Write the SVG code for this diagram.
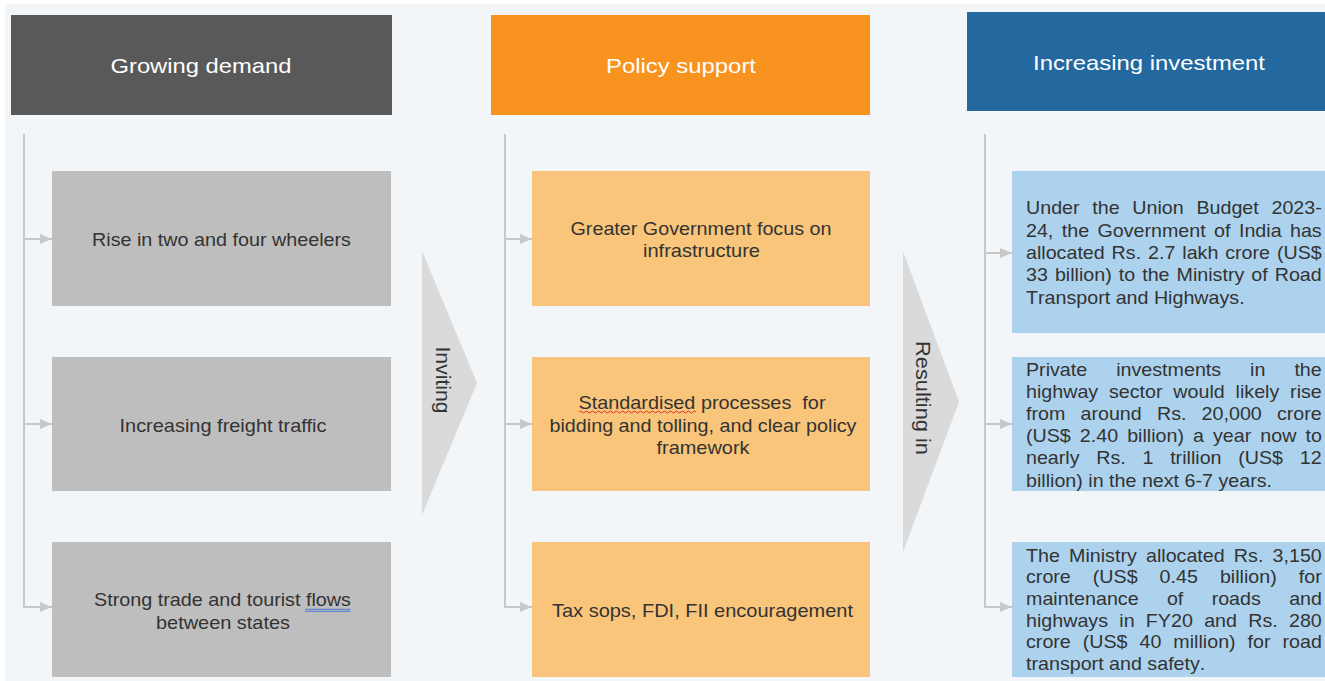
<svg xmlns="http://www.w3.org/2000/svg" width="1325" height="681" viewBox="0 0 1325 681">
<style>
.hdr{font-family:"Liberation Sans",Arial,sans-serif;font-size:21px;fill:#ffffff;text-anchor:middle}
.bx{font-family:"Liberation Sans",Arial,sans-serif;font-size:18.5px;fill:#333333;text-anchor:middle}
.rt{font-family:"Liberation Sans",Arial,sans-serif;font-size:17.5px;fill:#333333;font-kerning:none}
.chv{font-family:"Liberation Sans",Arial,sans-serif;font-size:20px;fill:#333333;text-anchor:middle}
.conn{fill:none;stroke:#C8C8C8;stroke-width:2}
.gray{fill:#BEBEBE}
.org{fill:#F9C57A}
.blu{fill:#ACD2ED}
.arrowbody{fill:#DADADA}
</style>
<defs>
<marker id="ah" markerUnits="userSpaceOnUse" markerWidth="12" markerHeight="10" refX="12" refY="5" orient="auto">
<path d="M0,0 L12,5 L0,10 Z" fill="#C8C8C8"/>
</marker>
</defs>
<rect x="0" y="0" width="1325" height="681" fill="#ffffff"/>
<rect x="5" y="4" width="1320" height="677" fill="#F3F6F8"/>

<g id="connectors">
<path class="conn" d="M24,134 V607 H52" marker-end="url(#ah)"/>
<path class="conn" d="M24,239 H52" marker-end="url(#ah)"/>
<path class="conn" d="M24,424 H52" marker-end="url(#ah)"/>
<path class="conn" d="M505,134 V607 H532" marker-end="url(#ah)"/>
<path class="conn" d="M505,239 H532" marker-end="url(#ah)"/>
<path class="conn" d="M505,424 H532" marker-end="url(#ah)"/>
<path class="conn" d="M985,134 V607 H1012" marker-end="url(#ah)"/>
<path class="conn" d="M985,253 H1012" marker-end="url(#ah)"/>
<path class="conn" d="M985,424 H1012" marker-end="url(#ah)"/>
</g>

<g id="header-growing-demand">
<rect x="11" y="15" width="381" height="100" fill="#595959"/>
<text class="hdr" x="201" y="73" textLength="181" lengthAdjust="spacingAndGlyphs">Growing demand</text>
</g>
<g id="header-policy-support">
<rect x="491" y="15" width="379" height="100" fill="#F7931E"/>
<text class="hdr" x="681" y="73" textLength="150" lengthAdjust="spacingAndGlyphs">Policy support</text>
</g>
<g id="header-increasing-investment">
<rect x="967" y="12" width="358" height="99" fill="#23689E"/>
<text class="hdr" x="1149" y="70" textLength="232" lengthAdjust="spacingAndGlyphs">Increasing investment</text>
</g>

<g id="demand-1">
<rect class="gray" x="52" y="171" width="339" height="135"/>
<text class="bx" x="221.5" y="246" textLength="259" lengthAdjust="spacingAndGlyphs">Rise in two and four wheelers</text>
</g>
<g id="demand-2">
<rect class="gray" x="52" y="357" width="339" height="134"/>
<text class="bx" x="223" y="431.5" textLength="207" lengthAdjust="spacingAndGlyphs">Increasing freight traffic</text>
</g>
<g id="demand-3">
<rect class="gray" x="52" y="542" width="339" height="135"/>
<text class="bx" x="222.5" y="605.5" textLength="257" lengthAdjust="spacingAndGlyphs">Strong trade and tourist flows</text>
<text class="bx" x="223" y="628.5" textLength="134" lengthAdjust="spacingAndGlyphs">between states</text>
<path d="M305,609.3 H350.5 M305,611.3 H350.5" stroke="#4A78D0" stroke-width="1" fill="none"/>
</g>

<g id="inviting">
<polygon class="arrowbody" points="422,251 477,383 422,515"/>
<text class="chv" transform="translate(436,380) rotate(90)" textLength="67" lengthAdjust="spacingAndGlyphs">Inviting</text>
</g>

<g id="policy-1">
<rect class="org" x="532" y="171" width="338" height="135"/>
<text class="bx" x="701" y="235" textLength="261" lengthAdjust="spacingAndGlyphs">Greater Government focus on</text>
<text class="bx" x="701.5" y="256.5" textLength="117" lengthAdjust="spacingAndGlyphs">infrastructure</text>
</g>
<g id="policy-2">
<rect class="org" x="532" y="357" width="338" height="134"/>
<text class="bx" x="702" y="409" textLength="247" lengthAdjust="spacingAndGlyphs">Standardised processes&#160; for</text>
<path d="M579,412 q1.5,-2 3,0 t3,0 t3,0 t3,0 t3,0 t3,0 t3,0 t3,0 t3,0 t3,0 t3,0 t3,0 t3,0 t3,0 t3,0 t3,0 t3,0 t3,0 t3,0 t3,0 t3,0 t3,0 t3,0 t3,0 t3,0 t3,0 t3,0 t3,0 t3,0 t3,0 t3,0 t3,0 t3,0 t3,0 t3,0 t3,0 t3,0 t3,0 t3,0" stroke="#E0302A" stroke-width="1" fill="none"/>
<text class="bx" x="703" y="431.5" textLength="307" lengthAdjust="spacingAndGlyphs">bidding and tolling, and clear policy</text>
<text class="bx" x="703" y="453.5" textLength="93" lengthAdjust="spacingAndGlyphs">framework</text>
</g>
<g id="policy-3">
<rect class="org" x="532" y="542" width="338" height="135"/>
<text class="bx" x="702.5" y="616.5" textLength="301" lengthAdjust="spacingAndGlyphs">Tax sops, FDI, FII encouragement</text>
</g>

<g id="resulting-in">
<polygon class="arrowbody" points="903,251 959,402 903,552"/>
<text class="chv" transform="translate(916,398) rotate(90)" textLength="114" lengthAdjust="spacingAndGlyphs">Resulting in</text>
</g>

<g id="investment-1">
<rect class="blu" x="1012" y="171" width="313" height="162"/>
<g transform="matrix(1.125 0 0 1 -128.25 0)">
<text class="rt" x="1026" y="214.3" word-spacing="6.43">Under the Union Budget 2023-</text>
<text class="rt" x="1026" y="236.7" word-spacing="2.61">24, the Government of India has</text>
<text class="rt" x="1026" y="259.1" word-spacing="1.27">allocated Rs. 2.7 lakh crore (US$</text>
<text class="rt" x="1026" y="281.5" word-spacing="1.38">33 billion) to the Ministry of Road</text>
<text class="rt" x="1026" y="304">Transport and Highways.</text>
</g>
</g>
<g id="investment-2">
<rect class="blu" x="1012" y="357" width="313" height="134"/>
<g transform="matrix(1.125 0 0 1 -128.25 0)">
<text class="rt" x="1026" y="375.7" word-spacing="20.9">Private investments in the</text>
<text class="rt" x="1026" y="397.9" word-spacing="4.76">highway sector would likely rise</text>
<text class="rt" x="1026" y="420.1" word-spacing="8.63">from around Rs. 20,000 crore</text>
<text class="rt" x="1026" y="442.3" word-spacing="3.17">(US$ 2.40 billion) a year now to</text>
<text class="rt" x="1026" y="464.5" word-spacing="10.0">nearly Rs. 1 trillion (US$ 12</text>
<text class="rt" x="1026" y="486.7">billion) in the next 6-7 years.</text>
</g>
</g>
<g id="investment-3">
<rect class="blu" x="1012" y="542" width="313" height="135"/>
<g transform="matrix(1.125 0 0 1 -128.25 0)">
<text class="rt" x="1026" y="561.7" word-spacing="3.29">The Ministry allocated Rs. 3,150</text>
<text class="rt" x="1026" y="583.4" word-spacing="14.7">crore (US$ 0.45 billion) for</text>
<text class="rt" x="1026" y="605" word-spacing="20.3">maintenance of roads and</text>
<text class="rt" x="1026" y="626.7" word-spacing="5.16">highways in FY20 and Rs. 280</text>
<text class="rt" x="1026" y="648.4" word-spacing="5.76">crore (US$ 40 million) for road</text>
<text class="rt" x="1026" y="670">transport and safety.</text>
</g>
</g>
</svg>
